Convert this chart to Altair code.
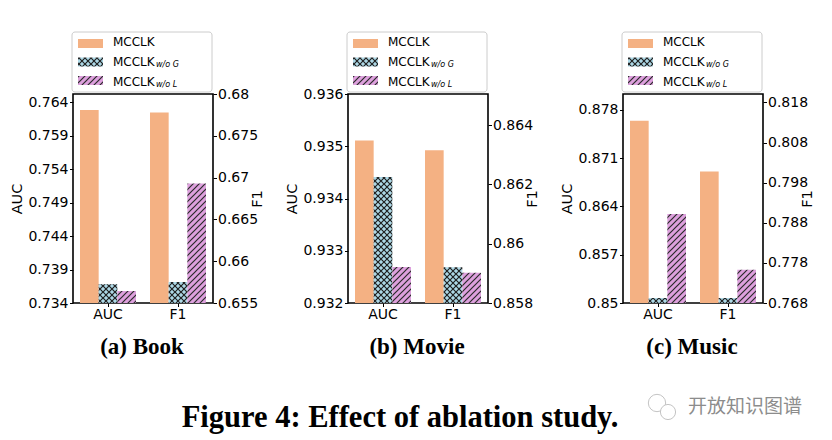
import altair as alt
import pandas as pd
import jinja2

# ---------------- data ----------------
DATASETS = ["Book", "Movie", "Music"]
CAPTIONS = ["(a) Book", "(b) Movie", "(c) Music"]
MODELS = ["MCCLK", "MCCLK_w/o G", "MCCLK_w/o L"]
LEGEND_MAIN = ["MCCLK", "MCCLK", "MCCLK"]
LEGEND_SUB = ["", "w/o G", "w/o L"]
METRICS = ["AUC", "F1"]

BOOK_AUC = [0.7628, 0.7368, 0.7358]
BOOK_F1 = [0.6778, 0.6575, 0.6693]
MOVIE_AUC = [0.93511, 0.93441, 0.93269]
MOVIE_F1 = [0.86315, 0.85921, 0.85902]
MUSIC_AUC = [0.87641, 0.85072, 0.86292]
MUSIC_F1 = [0.80075, 0.76924, 0.77629]

BOOK_AUC_TICKS = [0.734, 0.739, 0.744, 0.749, 0.754, 0.759, 0.764]
BOOK_F1_TICKS = [0.655, 0.66, 0.665, 0.67, 0.675, 0.68]
MOVIE_AUC_TICKS = [0.932, 0.933, 0.934, 0.935, 0.936]
MOVIE_F1_TICKS = [0.858, 0.86, 0.862, 0.864]
MUSIC_AUC_TICKS = [0.85, 0.857, 0.864, 0.871, 0.878]
MUSIC_F1_TICKS = [0.768, 0.778, 0.788, 0.798, 0.808, 0.818]

BOOK_AUC_DOMAIN = [0.734, 0.7652]
BOOK_F1_DOMAIN = [0.655, 0.68]
MOVIE_AUC_DOMAIN = [0.932, 0.936]
MOVIE_F1_DOMAIN = [0.858, 0.86505]
MUSIC_AUC_DOMAIN = [0.85, 0.8803]
MUSIC_F1_DOMAIN = [0.768, 0.8201]

FIG_TITLE = "Figure 4: Effect of ablation study."
WATERMARK = "开放知识图谱"

# ---------------- styles ----------------
FILLS = ["#F4B183", "url(#hatchG) #ADD8E6", "url(#hatchL) #DDA0DD"]
PLOT_W, PLOT_H = 140, 209

color = alt.Color("model:N", scale=alt.Scale(domain=MODELS, range=FILLS), legend=None)


def text_layer(txt, x, y, align="center", font="Liberation Serif", size=23, weight="bold", col="black"):
    df = pd.DataFrame({"t": [txt]})
    return alt.Chart(df).mark_text(
        align=align, baseline="alphabetic", font=font, fontSize=size, fontWeight=weight, color=col
    ).encode(x=alt.value(x), y=alt.value(y), text="t:N")


def panel(caption, auc, f1, auc_dom, f1_dom, auc_ticks, f1_ticks, extras=()):
    auc_df = pd.DataFrame({"metric": "AUC", "model": MODELS, "value": auc})
    f1_df = pd.DataFrame({"metric": "F1", "model": MODELS, "value": f1})
    xenc = alt.X(
        "metric:N",
        scale=alt.Scale(domain=METRICS, paddingInner=0.2, paddingOuter=0.1),
        axis=alt.Axis(title=None, labelAngle=0, labelFontSize=14, tickSize=3.5,
                      labelPadding=1, domain=False, ticks=True),
    )
    xoff = alt.XOffset("model:N", scale=alt.Scale(domain=MODELS, paddingInner=0, paddingOuter=0))
    auc_layer = alt.Chart(auc_df).mark_bar(clip=True).encode(
        x=xenc,
        xOffset=xoff,
        y=alt.Y("value:Q", scale=alt.Scale(domain=auc_dom, zero=False, nice=False),
                axis=alt.Axis(title="AUC", orient="left", values=auc_ticks, format=".3~g",
                              tickSize=3.5, labelPadding=1.5, titlePadding=3, labelOverlap=False)),
        color=color,
    )
    f1_layer = alt.Chart(f1_df).mark_bar(clip=True).encode(
        x=xenc,
        xOffset=xoff,
        y=alt.Y("value:Q", scale=alt.Scale(domain=f1_dom, zero=False, nice=False),
                axis=alt.Axis(title="F1", orient="right", values=f1_ticks, format=".3~g",
                              tickSize=3.5, labelPadding=1, titlePadding=7, titleAngle=270,
                              labelOverlap=False)),
        color=color,
    )

    # legend drawn above the plot area
    leg_df = pd.DataFrame({"model": MODELS, "main": LEGEND_MAIN, "sub": LEGEND_SUB})
    yleg = alt.Y("model:N", scale=alt.Scale(domain=MODELS, range=[-62, -2],
                                            paddingInner=0.514, paddingOuter=0.378), axis=None)
    box = alt.Chart(pd.DataFrame({"k": [0]})).mark_rect(
        fill="white", stroke="#cccccc", strokeWidth=1, cornerRadius=3
    ).encode(x=alt.value(-1), x2=alt.value(139), y=alt.value(-62), y2=alt.value(-2))
    swatch = alt.Chart(leg_df).mark_rect().encode(
        x=alt.value(5), x2=alt.value(30), y=yleg, color=color)
    main_txt = alt.Chart(leg_df).mark_text(
        align="left", baseline="middle", font="DejaVu Sans", fontSize=12, color="black"
    ).encode(x=alt.value(40), y=yleg, text="main:N")
    sub_txt = alt.Chart(leg_df).mark_text(
        align="left", baseline="middle", font="DejaVu Sans", fontSize=8, fontStyle="italic",
        color="black", dy=3
    ).encode(x=alt.value(83), y=yleg, text="sub:N")

    cap = text_layer(caption, 69, 260)

    layers = [auc_layer, f1_layer, box, swatch, main_txt, sub_txt, cap] + list(extras)
    return alt.layer(*layers).resolve_scale(y="independent").properties(
        width=PLOT_W, height=PLOT_H,
        view=alt.ViewBackground(stroke="black", strokeWidth=1.6, fill="white"),
    )


fig_title = text_layer(FIG_TITLE, 52, 333, size=30.5)
wm = text_layer(WATERMARK, 65, 411 - 92, align="left", font="Noto Sans CJK SC", size=19,
                weight="normal", col="#8c8c8c")
icon_df = pd.DataFrame({"k": [0]})
icon_a = alt.Chart(icon_df).mark_point(
    shape="circle", filled=False, stroke="#c4c4c4", strokeWidth=1, opacity=1
).encode(x=alt.value(34), y=alt.value(309), size=alt.value(300))
icon_b = alt.Chart(icon_df).mark_point(
    shape="circle", filled=True, fill="white", stroke="#c4c4c4", strokeWidth=1, opacity=1
).encode(x=alt.value(45), y=alt.value(318), size=alt.value(230))

p1 = panel(CAPTIONS[0], BOOK_AUC, BOOK_F1, BOOK_AUC_DOMAIN, BOOK_F1_DOMAIN, BOOK_AUC_TICKS, BOOK_F1_TICKS)
p2 = panel(CAPTIONS[1], MOVIE_AUC, MOVIE_F1, MOVIE_AUC_DOMAIN, MOVIE_F1_DOMAIN, MOVIE_AUC_TICKS, MOVIE_F1_TICKS,
           extras=[fig_title])
p3 = panel(CAPTIONS[2], MUSIC_AUC, MUSIC_F1, MUSIC_AUC_DOMAIN, MUSIC_F1_DOMAIN, MUSIC_AUC_TICKS, MUSIC_F1_TICKS,
           extras=[icon_a, icon_b, wm])

chart = alt.hconcat(p1, p2, p3, spacing=135, bounds="flush").properties(
    padding={"left": 1, "top": 22, "right": 0, "bottom": 0},
).configure_axis(
    labelFont="DejaVu Sans", titleFont="DejaVu Sans", labelFontSize=14, titleFontSize=14.5,
    titleFontWeight="normal", labelColor="black", titleColor="black", tickColor="black",
    tickWidth=1, grid=False, domain=False,
).configure_view(stroke=None)

# ---------------- hatch patterns via page template ----------------
PATTERNS = """<svg width="0" height="0" style="position:absolute" aria-hidden="true"><defs>
<pattern id="hatchG" patternUnits="userSpaceOnUse" width="6" height="6">
<rect width="6" height="6" fill="#ADD8E6"/>
<path d="M0,0L6,6M6,0L0,6" stroke="#1e1e1e" stroke-width="1.2"/>
</pattern>
<pattern id="hatchL" patternUnits="userSpaceOnUse" width="6" height="6">
<rect width="6" height="6" fill="#DDA0DD"/>
<path d="M-1,1L1,-1M0,6L6,0M5,7L7,5" stroke="#2a2a2a" stroke-width="1.2"/>
</pattern>
</defs></svg>"""

TEMPLATE = jinja2.Template("""<!DOCTYPE html>
<html>
<head>
<meta charset="utf-8">
<style>
#{{ output_div }}.vega-embed { width: 100%; display: flex; }
#{{ output_div }}.vega-embed details, #{{ output_div }}.vega-embed details summary { position: relative; }
</style>
<script type="text/javascript" src="{{ base_url or 'https://cdn.jsdelivr.net/npm' }}/vega@{{ vega_version }}"></script>
<script type="text/javascript" src="{{ base_url or 'https://cdn.jsdelivr.net/npm' }}/vega-lite@{{ vegalite_version }}"></script>
<script type="text/javascript" src="{{ base_url or 'https://cdn.jsdelivr.net/npm' }}/vega-embed@{{ vegaembed_version }}"></script>
</head>
<body>
""" + PATTERNS + """
<div id="{{ output_div }}"></div>
<script>
(function(vegaEmbed) {
  var spec = {{ spec }};
  var embedOpt = {{ embed_options }};
  function showError(el, error){
    el.innerHTML = ('<div style="color:red;"><p>JavaScript Error: ' + error.message + '</p></div>');
    throw error;
  }
  const el = document.getElementById('{{ output_div }}');
  vegaEmbed("#{{ output_div }}", spec, embedOpt).catch(error => showError(el, error));
})(vegaEmbed);
</script>
</body>
</html>""")

try:
    from altair.utils import html as _alt_html
    _alt_html.TEMPLATES["hatched"] = TEMPLATE
    chart.save("out.html", embed_options={"renderer": "svg", "actions": False}, template="hatched")
except Exception:
    chart.save("out.html", embed_options={"renderer": "svg", "actions": False})
